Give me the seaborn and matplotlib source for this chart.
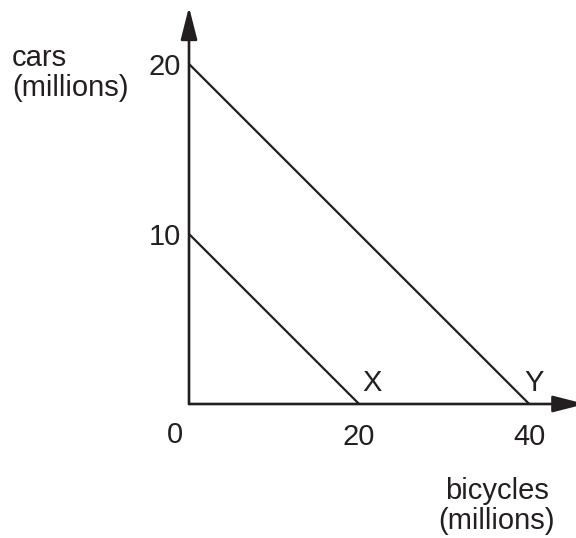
import matplotlib
matplotlib.use("Agg")
import matplotlib.pyplot as plt
import seaborn as sns
import pandas as pd

# production possibility lines (bicycles, cars), millions
line_x_bikes = [0, 20]
line_x_cars = [10, 0]
line_y_bikes = [0, 40]
line_y_cars = [20, 0]
x_ticks = [20, 40]
y_ticks = [10, 20]
end_labels = ["X", "Y"]

sns.set_theme(style="white")
plt.rcParams["font.family"] = ["Liberation Sans", "DejaVu Sans"]
ink = "#231f20"
fs = 21

df = pd.DataFrame({
    "bicycles": line_x_bikes + line_y_bikes,
    "cars": line_x_cars + line_y_cars,
    "curve": ["X", "X", "Y", "Y"],
})

fig = plt.figure(figsize=(5.76, 5.38), dpi=100)
W, H = 576, 538
ax = fig.add_axes([189 / W, (H - 404) / H, (W - 189) / W, (404 - 7) / H])
ax.set_xlim(0, 45.5)
ax.set_ylim(0, 23.35)

sns.lineplot(data=df, x="bicycles", y="cars", units="curve", estimator=None,
             color=ink, linewidth=1.6, ax=ax, legend=False)

for s in ax.spines.values():
    s.set_visible(False)

# axes with arrowheads
arrow = dict(arrowstyle="-|>,head_length=1.65,head_width=0.42",
             color=ink, lw=1.9, shrinkA=0, shrinkB=0)
ax.annotate("", xy=(46.6, 0), xytext=(0, 0), xycoords="data",
            arrowprops=arrow, annotation_clip=False)
ax.annotate("", xy=(0, 23.35), xytext=(0, 0), xycoords="data",
            arrowprops=arrow, annotation_clip=False)

ax.set_xticks(x_ticks)
ax.set_yticks(y_ticks)
ax.set_xticklabels([str(v) for v in x_ticks])
ax.set_yticklabels([str(v) for v in y_ticks])
ax.tick_params(axis="x", length=0, pad=14, labelsize=fs, labelcolor=ink)
ax.tick_params(axis="y", length=0, pad=6, labelsize=fs, labelcolor=ink)
ax.set_xlabel("")
ax.set_ylabel("")

fig.text(175 / W, 1 - 435 / H, "0", ha="center", va="center", fontsize=fs, color=ink)

for lbl, xv, dx in zip(end_labels, [line_x_bikes[1], line_y_bikes[1]], [13, 5]):
    ax.annotate(lbl, xy=(xv, 0), xytext=(dx, 21), textcoords="offset pixels",
                ha="center", va="center", fontsize=fs, color=ink)

fig.text(12 / W, 1 - 44 / H, "cars\n(millions)", ha="left", va="top",
         fontsize=fs, color=ink, linespacing=1.1)
fig.text(497 / W, 1 - 477 / H, "bicycles\n(millions)", ha="center", va="top",
         fontsize=fs, color=ink, linespacing=1.1)

fig.savefig("out.png", dpi=100)
